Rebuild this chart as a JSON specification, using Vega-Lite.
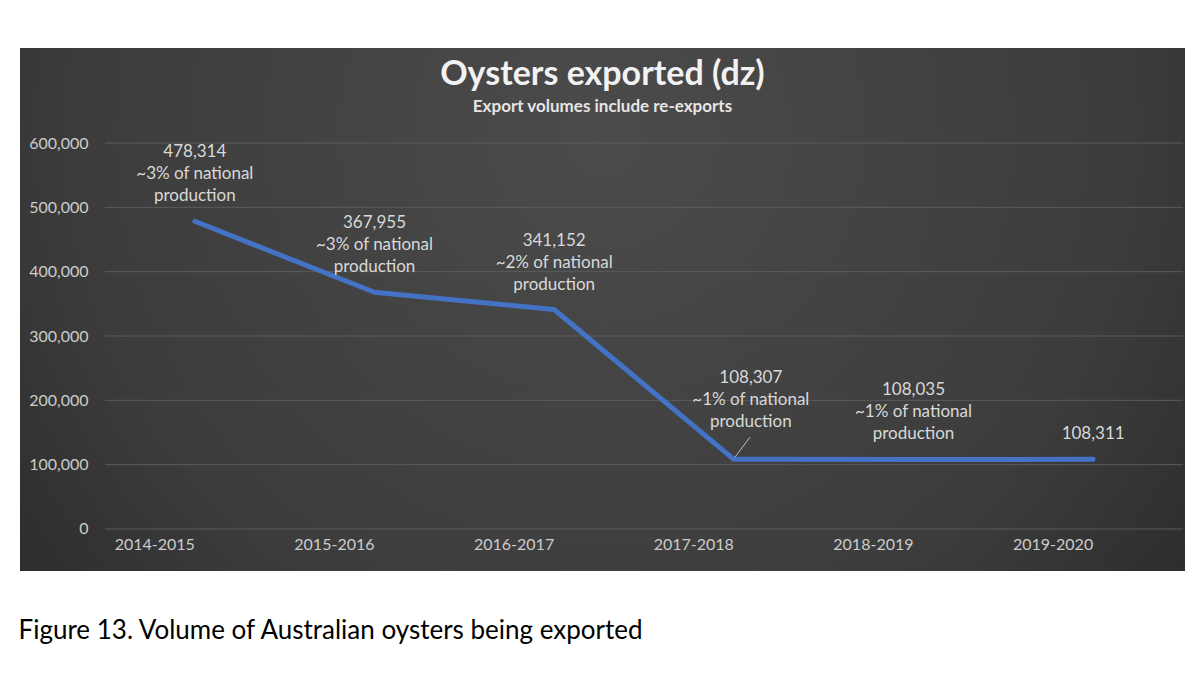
{
  "$schema": "https://vega.github.io/schema/vega-lite/v6.json",
  "width": 1165,
  "height": 523,
  "autosize": "none",
  "padding": {"left": 20, "top": 48, "right": 18, "bottom": 113},
  "background": "white",
  "title": {
    "text": "Oysters exported (dz)",
    "subtitle": "Export volumes include re-exports",
    "anchor": "middle",
    "frame": "group",
    "orient": "top",
    "offset": -67,
    "font": "Lato",
    "fontSize": 34,
    "fontWeight": "bold",
    "color": "#f2f2f2",
    "subtitleFont": "Lato",
    "subtitleFontSize": 17,
    "subtitleFontWeight": "bold",
    "subtitleColor": "#e6e6e6",
    "subtitlePadding": 7
  },
  "datasets": {
    "exports": [
      {"period": "2014-2015", "volume": 478314, "label": "478,314\n~3% of national\nproduction"},
      {"period": "2015-2016", "volume": 367955, "label": "367,955\n~3% of national\nproduction"},
      {"period": "2016-2017", "volume": 341152, "label": "341,152\n~2% of national\nproduction"},
      {"period": "2017-2018", "volume": 108307, "label": "108,307\n~1% of national\nproduction"},
      {"period": "2018-2019", "volume": 108035, "label": "108,035\n~1% of national\nproduction"},
      {"period": "2019-2020", "volume": 108311, "label": "108,311"}
    ],
    "grid": [
      {"tick": 0}, {"tick": 100000}, {"tick": 200000}, {"tick": 300000},
      {"tick": 400000}, {"tick": 500000}, {"tick": 600000}
    ]
  },
  "layer": [
    {
      "data": {"name": "grid"},
      "mark": {"type": "rule", "color": "#5c5c5c", "strokeWidth": 1},
      "encoding": {
        "x": {"datum": "2014-2015", "type": "nominal", "bandPosition": 0},
        "x2": {"datum": "2019-2020", "bandPosition": 1},
        "y": {"field": "tick", "type": "quantitative"}
      }
    },
    {
      "data": {"name": "exports"},
      "mark": {"type": "line", "color": "#4472c4", "strokeWidth": 5, "strokeCap": "round", "strokeJoin": "round"},
      "encoding": {
        "x": {
          "field": "period",
          "type": "nominal",
          "scale": {
            "type": "band",
            "domain": ["2014-2015", "2015-2016", "2016-2017", "2017-2018", "2018-2019", "2019-2020"],
            "range": [85, 1163],
            "paddingInner": 0,
            "paddingOuter": 0
          },
          "axis": {
            "orient": "bottom",
            "offset": -42,
            "domain": false,
            "ticks": false,
            "grid": false,
            "labelAngle": 0,
            "labelFont": "Lato",
            "labelFontSize": 16,
            "labelColor": "#cccccc",
            "labelPadding": 15,
            "title": "Figure 13. Volume of Australian oysters being exported",
            "titleFont": "Lato",
            "titleFontSize": 26,
            "titleFontWeight": "normal",
            "titleColor": "#000000",
            "titleAnchor": null,
            "titleAlign": "left",
            "titleBaseline": "alphabetic",
            "titleX": -2,
            "titleY": 109
          }
        },
        "y": {
          "field": "volume",
          "type": "quantitative",
          "scale": {"domain": [-65300, 747700], "nice": false, "zero": false},
          "axis": {
            "orient": "left",
            "offset": -86,
            "values": [0, 100000, 200000, 300000, 400000, 500000, 600000],
            "format": ",.0f",
            "domain": false,
            "ticks": false,
            "grid": false,
            "labelFont": "Lato",
            "labelFontSize": 16,
            "labelColor": "#cccccc",
            "labelPadding": 18,
            "title": null
          }
        }
      }
    },
    {
      "data": {"name": "exports"},
      "transform": [{"filter": "datum.period === '2017-2018'"}],
      "mark": {"type": "rule", "color": "#bfbfbf", "strokeWidth": 1, "xOffset": 1, "yOffset": -2, "x2Offset": 16, "y2Offset": -22},
      "encoding": {
        "x": {"field": "period", "type": "nominal"},
        "x2": {"field": "period"},
        "y": {"field": "volume", "type": "quantitative"},
        "y2": {"field": "volume"}
      }
    },
    {
      "data": {"name": "exports"},
      "transform": [{"filter": "datum.period !== '2017-2018' && datum.period !== '2019-2020'"}],
      "mark": {"type": "text", "font": "Lato", "fontSize": 17, "color": "#d9d9d9", "align": "center", "baseline": "bottom", "lineBreak": "\n", "lineHeight": 22, "dy": -60},
      "encoding": {
        "x": {"field": "period", "type": "nominal"},
        "y": {"field": "volume", "type": "quantitative"},
        "text": {"field": "label"}
      }
    },
    {
      "data": {"name": "exports"},
      "transform": [{"filter": "datum.period === '2019-2020'"}],
      "mark": {"type": "text", "font": "Lato", "fontSize": 17, "color": "#d9d9d9", "align": "center", "baseline": "bottom", "dy": -16},
      "encoding": {
        "x": {"field": "period", "type": "nominal"},
        "y": {"field": "volume", "type": "quantitative"},
        "text": {"field": "label"}
      }
    },
    {
      "data": {"name": "exports"},
      "transform": [{"filter": "datum.period === '2017-2018'"}],
      "mark": {"type": "text", "font": "Lato", "fontSize": 17, "color": "#d9d9d9", "align": "center", "baseline": "bottom", "lineBreak": "\n", "lineHeight": 22, "dx": 17, "dy": -72},
      "encoding": {
        "x": {"field": "period", "type": "nominal"},
        "y": {"field": "volume", "type": "quantitative"},
        "text": {"field": "label"}
      }
    }
  ],
  "config": {
    "view": {
      "stroke": null,
      "fill": {
        "gradient": "radial",
        "x1": 0.5, "y1": 0.35, "x2": 0.5, "y2": 0.35, "r1": 0, "r2": 0.75,
        "stops": [
          {"offset": 0, "color": "#4b4b4b"},
          {"offset": 0.6, "color": "#3c3c3c"},
          {"offset": 1, "color": "#232323"}
        ]
      }
    }
  }
}
